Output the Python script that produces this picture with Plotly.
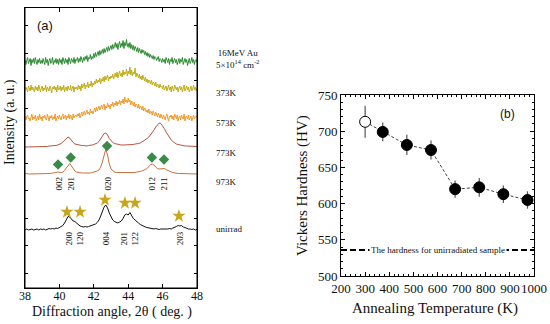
import numpy as np
import plotly.graph_objects as go

# ---------------- data: panel (a) XRD patterns ----------------
# noisy amorphous patterns sampled every 0.05 deg (38-48 deg)
xrd_irradiated = [2,-3,1,4,-2,0,3,-4,2,-1,3,-2,4,0,-3,2,-1,3,-2,1,
                  -2,3,0,-3,4,-1,2,-4,1,3,-2,0,4,-3,1,-1,3,-2,2,-3,
                  3,-1,2,-3,4,0,-2,3,-1,2,-3,4,1,-2,3,0,-1,4,-2,2,
                  1,4,-1,3,0,5,2,-1,4,1,5,2,6,0,4,3,7,2,5,3,
                  8,4,9,5,7,10,6,11,7,9,12,8,13,9,11,14,10,15,11,13,
                  16,12,17,13,15,19,14,18,12,17,20,14,18,15,21,13,19,16,22,15,
                  18,14,19,13,17,12,16,11,15,13,10,14,9,13,11,8,12,9,11,7,
                  10,6,9,5,8,4,7,5,3,6,2,5,4,1,3,5,0,3,2,-1,
                  3,0,2,-2,4,1,-1,3,-3,2,0,4,-2,1,3,-1,2,-3,1,3,
                  -2,2,0,4,-3,1,3,-1,2,-4,1,3,-2,0,4,-1,2,-3,1,2,
                  -1]
xrd_373K = [-1,2,0,-3,3,1,-2,4,-1,2,0,-3,3,-1,2,-2,4,0,-3,1,
            3,-2,1,-1,4,-3,2,0,-2,3,1,-4,2,0,3,-1,2,-3,4,-1,
            0,3,-2,2,-1,4,-3,1,2,-2,3,0,-1,4,-2,1,3,-3,2,0,
            2,-1,4,0,3,-2,5,1,3,6,0,4,2,7,1,5,3,8,2,6,
            4,8,5,10,6,9,7,11,5,10,8,12,7,13,9,11,14,8,12,10,
            13,11,15,10,14,16,12,17,11,15,18,13,16,12,19,14,17,15,20,13,
            18,15,22,14,19,13,17,15,21,12,16,14,11,15,10,13,9,14,11,8,
            12,7,10,6,9,8,5,9,4,7,6,3,7,2,5,4,1,5,2,3,
            0,4,-1,2,3,-2,1,4,-1,2,-3,3,0,-2,4,1,-1,2,-3,1,
            3,-1,2,-3,1,4,-2,0,3,-1,2,-3,1,3,-2,0,4,-1,2,-2,
            1]
xrd_573K = [2,-2,1,3,-1,0,-3,2,4,-2,1,-1,3,-3,0,2,-2,4,-1,1,
            -3,2,0,3,-1,-2,4,1,-3,2,0,3,-2,1,-1,4,-3,0,2,-1,
            3,0,-2,2,4,-1,1,3,-2,2,0,4,-1,3,1,-2,4,0,2,3,
            1,4,2,5,0,3,6,2,4,7,3,5,8,4,6,3,9,5,7,4,
            8,10,6,11,7,9,12,8,10,13,9,11,14,8,12,10,15,11,13,9,
            14,12,16,11,15,13,17,12,16,14,18,13,17,15,19,14,21,16,18,15,
            20,16,18,13,17,15,12,16,11,14,13,10,14,9,12,11,8,12,7,10,
            9,6,8,5,9,4,7,6,3,7,5,2,6,4,1,5,3,0,4,2,
            -1,3,1,-2,2,4,0,-3,2,1,3,-1,2,-2,4,0,-1,3,-3,1,
            2,-2,3,0,-1,4,-3,1,2,-1,3,-2,0,2,-3,1,3,-1,0,2,
            1]
# crystalline patterns sampled every 0.1 deg (38-48 deg)
xrd_773K = [0,0,0.5,0,0,0.5,0,0,0.5,0,
            0.5,0.5,0,0.5,1,1,1,1.5,1.5,2,
            2.5,3.5,5,7,9,10,9,6.5,4.5,3,
            2.5,2,1.5,1.5,1.5,1,1,1.5,1.5,2,
            2.5,3,4,5.5,8,11,13.5,14,12,8.5,
            6,4.5,3.5,3,2.5,2,2,2,2,2,
            2,2,2.5,2.5,3,3,3.5,4,5,6,
            7,8.5,10,12,14.5,17,20,22.5,24,23.5,
            21.5,18.5,15,12,9,7,5.5,4,3,2.5,
            2,1.5,1.5,1,1,1,0.5,0.5,0.5,0.5,0.5]
xrd_973K = [0,0.5,0,0,0.5,0,0,0.5,0,0.5,
            0,0.5,0.5,0,0.5,0.5,1,1,1.5,2,
            1.5,1.5,2,3.5,6,9,10.5,8,5,3,
            2,1.5,1,1,1,1,0.5,1,1,1.5,
            2,2,3,4,7,12,20,25,19,10,
            5,3,2,1.5,1.5,1,1,1.5,1.5,1,
            1.5,1.5,1,1.5,1.5,2,2,2.5,3,3.5,
            4.5,5.5,7.5,9.5,10,9,7,5.5,5,5,
            5.5,5.5,4.5,3.5,2.5,2,1.5,1,1,0.5,
            0.5,0.5,0,0.5,0,0,0.5,0,0,0.5,0]
xrd_unirrad = [0,1,0,0.5,1,0,0.5,1,0,1,
               0.5,1,0,1,1.5,1,1.5,1,2,1.5,
               2.5,3,4.5,7,11,13.5,13,10.5,9,8.5,
               7,5,4,3.5,3,3.5,3,3.5,4,4.5,
               5,6,7.5,10,14,19,23,25,22,17,
               13,10,8.5,7.5,7,8,9,11.5,15,16,
               15,17.5,14,11.5,10,8,7,5.5,4.5,4,
               3,2.5,2,1.5,1.5,1,1.5,1,0.5,1,
               1,0.5,1,1,1.5,1,2,2.5,3.5,4.5,
               4,4.5,3,2.5,1.5,1,1,0.5,1,0,0.5]

series_values = [xrd_irradiated, xrd_373K, xrd_573K, xrd_773K, xrd_973K, xrd_unirrad]
series_offsets = [226.5, 199, 170, 141, 114, 58]
series_colors = ["#2a8a30", "#c0ac12", "#f0982c", "#b5553a", "#c8703f", "#111111"]
series_labels = ["16MeV Au<br>5×10<sup>14</sup> cm<sup>-2</sup>", "373K", "573K", "773K", "973K", "unirrad"]

# phase markers (angle, height in panel units)
diamond_angle = [39.92, 40.66, 42.77, 45.38, 46.08]
diamond_height = [123.5, 130.5, 142, 130.5, 128.5]
star_angle = [40.44, 41.2, 42.65, 43.81, 44.4, 46.95]
star_height = [76, 76, 88, 85, 85, 72]

hkl_973K = ["002", "201", "020", "012", "211"]
hkl_973K_angle = [39.92, 40.62, 42.77, 45.38, 46.08]
hkl_unirrad = ["200", "120", "004", "201", "122", "203"]
hkl_unirrad_angle = [40.5, 41.14, 42.7, 43.7, 44.34, 47.0]

# ---------------- data: panel (b) hardness ----------------
anneal_temp = [300, 373, 473, 573, 673, 773, 873, 973]
hardness = [713, 699, 681, 674, 620, 622.5, 613, 605]
hardness_err = [22, 13, 14, 13, 12, 13, 12, 12]
unirrad_hardness = 536

SERIF = "Liberation Serif, Times New Roman, serif"
fig = go.Figure()

for vals, off, col in zip(series_values, series_offsets, series_colors):
    angle_grid = np.linspace(38.0, 48.0, len(vals))
    fig.add_trace(go.Scatter(x=angle_grid, y=np.array(vals, dtype=float) + off,
                             mode="lines", line=dict(color=col, width=1),
                             xaxis="x", yaxis="y", showlegend=False, hoverinfo="skip"))

fig.add_trace(go.Scatter(x=diamond_angle, y=diamond_height, mode="markers",
                         marker=dict(symbol="diamond", size=8, color="#3a8a48"),
                         xaxis="x", yaxis="y", showlegend=False))
fig.add_trace(go.Scatter(x=star_angle, y=star_height, mode="markers",
                         marker=dict(symbol="star", size=10, color="#c9a51c"),
                         xaxis="x", yaxis="y", showlegend=False))

def ann(x, y, text, xref="paper", yref="paper", size=9, family=SERIF, angle=0,
        xanchor="center", yanchor="middle", **kw):
    return dict(x=x, y=y, xref=xref, yref=yref, text=text, textangle=angle,
                showarrow=False, xanchor=xanchor, yanchor=yanchor,
                font=dict(family=family, size=size, color="#111"), **kw)

annotations = []
for t, a in zip(hkl_973K, hkl_973K_angle):
    annotations.append(ann(a, 104.5, t, "x", "y", angle=-90))
for t, a in zip(hkl_unirrad, hkl_unirrad_angle):
    annotations.append(ann(a, 49.5, t, "x", "y", angle=-90))

label_py = [59, 93, 123, 153, 182, 229]
for lab, py in zip(series_labels, label_py):
    annotations.append(ann(214/550, 1 - py/324, lab, xanchor="left", align="center"))

annotations.append(ann(45/550, 1 - 25/324, "(a)", size=13, family="Liberation Sans"))
annotations.append(ann(10/550, 1 - 122/324, "Intensity (a. u.)", size=14, angle=-90))
annotations.append(ann(112/550, 1 - 312/324, "Diffraction angle, 2θ ( deg. )", size=14))
annotations.append(ann(435/550, 1 - 308/324, "Annealing Temperature (K)", size=15))
annotations.append(ann(302/550, 1 - 186/324, "Vickers Hardness (HV)", size=15, angle=-90))

# ---- panel (b)
fig.add_trace(go.Scatter(x=[200, 1000], y=[unirrad_hardness, unirrad_hardness], mode="lines",
                         line=dict(color="black", width=2, dash="6px,3px"),
                         xaxis="x2", yaxis="y2", showlegend=False))
fig.add_trace(go.Scatter(x=anneal_temp, y=hardness, mode="lines",
                         line=dict(color="#444", width=1, dash="3px,2px"),
                         xaxis="x2", yaxis="y2", showlegend=False))
fig.add_trace(go.Scatter(x=anneal_temp, y=hardness, mode="markers",
                         error_y=dict(type="data", array=hardness_err, color="#555",
                                      thickness=1.2, width=0),
                         marker=dict(size=11, color=["white"] + ["black"] * (len(hardness) - 1),
                                     line=dict(color="black", width=1)),
                         xaxis="x2", yaxis="y2", showlegend=False))

annotations.append(ann(603, unirrad_hardness, "The hardness for unirradiated sample", "x2", "y2",
                       bgcolor="white", borderpad=1))
annotations.append(ann(507/550, 1 - 114/324, "(b)", size=12, family="Liberation Sans"))

shapes = [dict(type="rect", xref="x domain", yref="y domain", x0=0, x1=1, y0=0, y1=1,
               line=dict(color="black", width=1), layer="above")]

fig.update_layout(
    width=550, height=324,
    margin=dict(l=0, r=0, t=0, b=0, autoexpand=False),
    paper_bgcolor="white", plot_bgcolor="white",
    showlegend=False,
    annotations=annotations,
    shapes=shapes,
    xaxis=dict(domain=[25/550, 197/550], anchor="y", range=[38, 48], automargin=False,
               tickmode="linear", tick0=38, dtick=2, tickangle=0,
               ticks="inside", ticklen=4, tickcolor="black", tickwidth=1, ticklabelstandoff=-3,
               showline=True, linecolor="black", linewidth=1, mirror="allticks",
               showgrid=False, zeroline=False,
               tickfont=dict(family=SERIF, size=12, color="#111")),
    yaxis=dict(domain=[1 - 288/324, 1 - 7.5/324], anchor="x", range=[0, 280.5], automargin=False,
               tickvals=[15, 42.5, 70, 97.5, 125, 152.5, 180, 207.5, 235, 262.5],
               showticklabels=False,
               ticks="inside", ticklen=3, tickcolor="black", tickwidth=1,
               showline=True, linecolor="black", linewidth=1, mirror="allticks",
               showgrid=False, zeroline=False),
    xaxis2=dict(domain=[341/550, 534/550], anchor="y2", range=[200, 1000], automargin=False,
                tickmode="linear", tick0=200, dtick=100, tickangle=0,
                ticks="inside", ticklen=4, tickcolor="black",
                minor=dict(dtick=20, ticks="inside", ticklen=2, tickcolor="black"),
                showline=True, linecolor="black", linewidth=1, mirror="ticks",
                showgrid=False, zeroline=False,
                tickfont=dict(family=SERIF, size=13, color="#111")),
    yaxis2=dict(domain=[1 - 276/324, 1 - 95/324], anchor="x2", range=[500, 750], automargin=False,
                tickmode="linear", tick0=500, dtick=50,
                ticks="inside", ticklen=4, tickcolor="black",
                minor=dict(dtick=10, ticks="inside", ticklen=2, tickcolor="black"),
                showline=True, linecolor="black", linewidth=1, mirror="ticks",
                showgrid=False, zeroline=False,
                tickfont=dict(family=SERIF, size=13, color="#111")),
)

fig.write_html("out.html", config={"displayModeBar": False},
               post_script="document.body.style.margin='0';")
